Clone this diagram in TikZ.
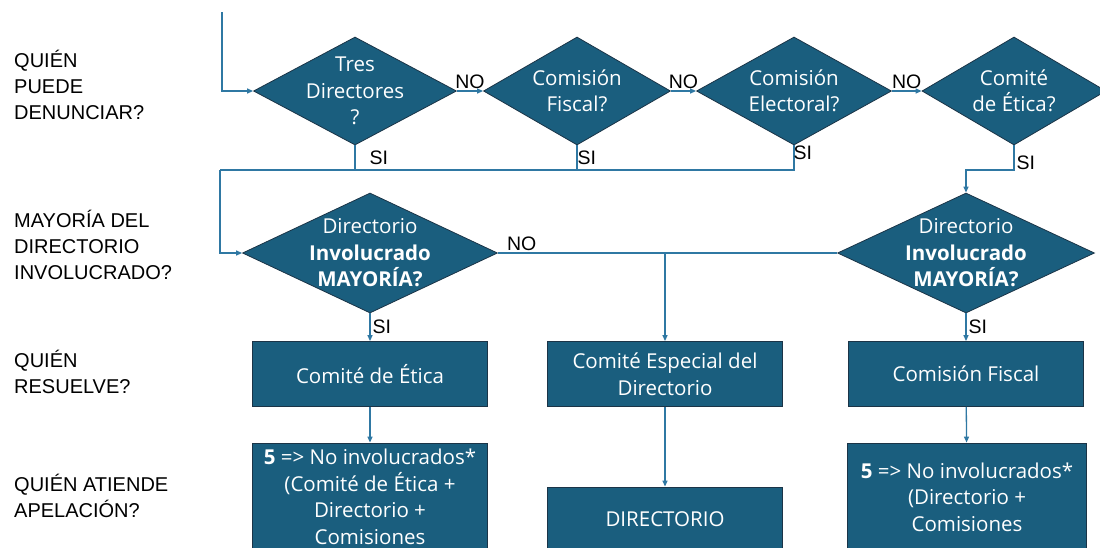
\documentclass[tikz,border=0pt]{standalone}
\usepackage{fontspec}
\setmainfont{Open Sans}
\newfontfamily\arialfont{Liberation Sans}
\usetikzlibrary{shapes.geometric,arrows.meta,positioning}
\definecolor{azulcaja}{HTML}{1A5E7E}
\definecolor{azullinea}{HTML}{2F78A3}
\definecolor{azulborde}{HTML}{1B3447}
\tikzset{
  rombo/.style={diamond,draw=azulborde,fill=azulcaja,inner sep=0pt,line width=0.8pt},
  caja/.style={rectangle,draw=azulborde,fill=azulcaja,inner sep=0pt,line width=0.8pt},
  texto/.style={text=white,align=center,font=\fontsize{20.5}{26.5}\selectfont},
  etiq/.style={font=\arialfont\fontsize{19.5}{22}\selectfont,inner sep=2pt},
  fila/.style={font=\arialfont\fontsize{20}{26}\selectfont,align=left,anchor=west,inner sep=0pt},
  flecha/.style={draw=azullinea,line width=1.3pt,-{Triangle[length=6pt,width=5pt]}},
  linea/.style={draw=azullinea,line width=1.3pt}
}
\begin{document}
\begin{tikzpicture}[x=1pt,y=-1pt]
		\useasboundingbox (0,0) rectangle (1100,547);
		% Preguntas a la izquierda
		\node[fila] (q1) at (14,85) {QUIÉN\\PUEDE\\DENUNCIAR?};
		\node[fila] (q2) at (14,245) {MAYORÍA DEL\\DIRECTORIO\\INVOLUCRADO?};
		\node[fila] (q3) at (14,372) {QUIÉN\\RESUELVE?};
		\node[fila] (q4) at (14,496) {QUIÉN ATIENDE\\APELACIÓN?};
		
		% Rombos
		\node[rombo,minimum width=203pt,minimum height=108pt,label={[texto]center:Tres\\Directores\\?}] (d1) at (355,91) {};
		\node[rombo,minimum width=187pt,minimum height=108pt,label={[texto]center:Comisión\\Fiscal?}] (d2) at (577,91) {};
		\node[rombo,minimum width=195pt,minimum height=108pt,label={[texto]center:Comisión\\Electoral?}] (d3) at (794,91) {};
		\node[rombo,minimum width=184pt,minimum height=108pt,label={[texto]center:Comité\\de Ética?}] (d4) at (1014,91) {};
		\node[rombo,minimum width=255pt,minimum height=120pt,label={[texto]center:Directorio\\\textbf{Involucrado}\\\textbf{MAYORÍA?}}] (d5) at (370,253) {};
		\node[rombo,minimum width=257pt,minimum height=120pt,label={[texto]center:Directorio\\\textbf{Involucrado}\\\textbf{MAYORÍA?}}] (d6) at (966,253) {};
		
		% Cajas
		\node[caja,texto,minimum width=235pt,minimum height=65pt] (b1) at (370,374) {Comité de Ética};
		\node[caja,texto,minimum width=235pt,minimum height=65pt] (b2) at (665,374) {Comité Especial del\\Directorio};
		\node[caja,texto,minimum width=235pt,minimum height=65pt] (b3) at (966,374) {Comisión Fiscal};
		\node[caja,texto,minimum width=235pt,minimum height=108pt] (b4) at (370,497) {\textbf{5} => No involucrados*\\(Comité de Ética +\\Directorio +\\Comisiones};
		\node[caja,texto,minimum width=235pt,minimum height=64pt] (b5) at (665,519) {DIRECTORIO};
		\node[caja,texto,minimum width=239pt,minimum height=108pt] (b6) at (967,497) {\textbf{5} => No involucrados*\\(Directorio +\\Comisiones};
		
		% Puntos de unión
		\coordinate (st) at (222,12);
		\coordinate (m1) at (220,170);
		\coordinate (m2) at (966,170);
		
		% Conectores
		\draw[flecha] (st) |- (d1.west);
		\draw[flecha] (d1.east) -- node[etiq,above]{NO} (d2.west);
		\draw[flecha] (d2.east) -- node[etiq,above]{NO} (d3.west);
		\draw[flecha] (d3.east) -- node[etiq,above]{NO} (d4.west);
		\draw[linea] (d1.south) -- node[etiq,right,xshift=12pt]{SI} (d1.south |- m1);
		\draw[linea] (d2.south) -- node[etiq,right,xshift=-2pt]{SI} (d2.south |- m1);
		\draw[linea] (d3.south) -- node[etiq,right,pos=0.3,xshift=-3pt]{SI} (d3.south |- m1) -- (m1);
		\draw[flecha] (d4.south) |- node[etiq,right,pos=0.35]{SI} (m2) -- (d6.north);
		\draw[flecha] (m1) |- (d5.west);
		\draw[linea] (d5.east) -- node[etiq,above,pos=0.07]{NO} (d6.west);
		\draw[flecha] (d5.east -| b2) -- (b2.north);
		\draw[flecha] (d5.south) -- node[etiq,right]{SI} (b1.north);
		\draw[flecha] (d6.south) -- node[etiq,right]{SI} (b3.north);
		\draw[flecha] (b1) -- (b4);
		\draw[flecha] (b2) -- (b5);
		\draw[flecha] (b3) -- (b6);
	\end{tikzpicture}
\end{document}
